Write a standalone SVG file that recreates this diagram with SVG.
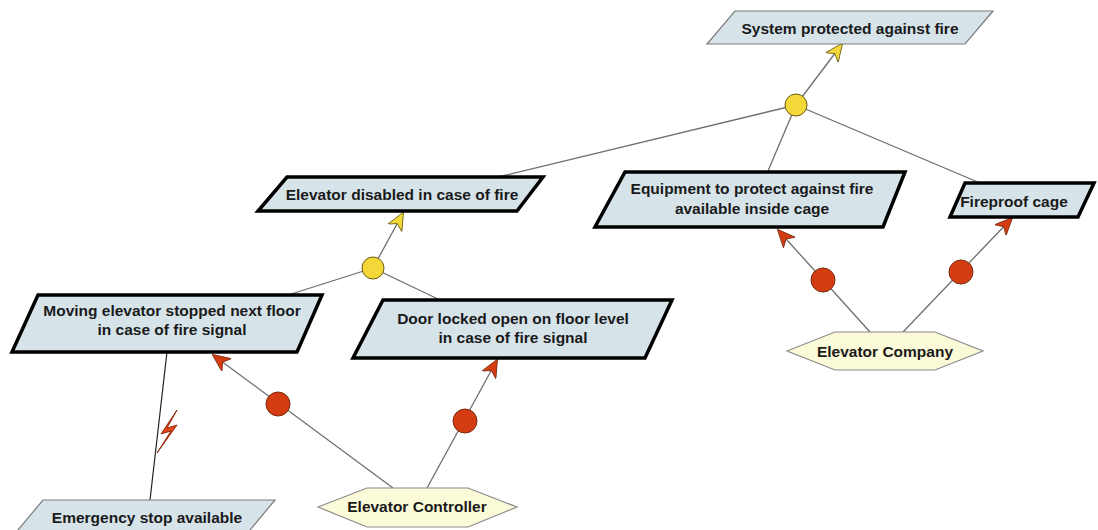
<svg xmlns="http://www.w3.org/2000/svg" width="1098" height="530" viewBox="0 0 1098 530">
<style>
.goal{fill:#d6e4ea;stroke:#000;stroke-width:3.5;stroke-linejoin:miter}
.goalt{fill:#d6e4ea;stroke:#7a7a7a;stroke-width:1.2}
.actor{fill:#fbfbd9;stroke:#8a8a8a;stroke-width:1.2}
.lbl{font-family:"Liberation Sans",Arial,sans-serif;font-weight:bold;font-size:15.5px;fill:#1a1a1a;text-anchor:middle}
.ln{stroke:#6e6e6e;stroke-width:1.3;fill:none}
.and{fill:#f4d83a;stroke:#6b5a10;stroke-width:1}
.dep{fill:#d43d12;stroke:#7a2a10;stroke-width:1}
</style>
<defs>
<marker id="ya" viewBox="0 0 18 16" refX="17" refY="8" markerWidth="18" markerHeight="16" markerUnits="userSpaceOnUse" orient="auto">
<path d="M0,0 L18,8 L0,16 L5,8 z" fill="#f4d83a" stroke="#6b5a10" stroke-width="0.8"/>
</marker>
<marker id="ra" viewBox="0 0 18 16" refX="17" refY="8" markerWidth="18" markerHeight="16" markerUnits="userSpaceOnUse" orient="auto">
<path d="M0,0 L18,8 L0,16 L5,8 z" fill="#d43d12" stroke="#7a2a10" stroke-width="0.8"/>
</marker>
</defs>
<g id="connectors">
<line class="ln" x1="796" y1="105" x2="842" y2="44" marker-end="url(#ya)"/>
<line class="ln" x1="796" y1="105" x2="498" y2="177"/>
<line class="ln" x1="796" y1="105" x2="768" y2="171"/>
<line class="ln" x1="796" y1="105" x2="980" y2="183"/>
<line class="ln" x1="373" y1="268" x2="403" y2="213" marker-end="url(#ya)"/>
<line class="ln" x1="373" y1="268" x2="285" y2="296"/>
<line class="ln" x1="373" y1="268" x2="440" y2="300"/>
<line class="ln" x1="393" y1="488" x2="213" y2="355" marker-end="url(#ra)"/>
<line class="ln" x1="427" y1="488" x2="497" y2="360" marker-end="url(#ra)"/>
<line class="ln" x1="870" y1="332" x2="778" y2="230" marker-end="url(#ra)"/>
<line class="ln" x1="903" y1="332" x2="1012" y2="218" marker-end="url(#ra)"/>
<line x1="167" y1="352" x2="150" y2="500" stroke="#222" stroke-width="1.2"/>
<polygon points="177,410 161,434 171,431 157,453 177,425 167,428" fill="#e2461a" stroke="#8a1f00" stroke-width="0.9"/>
<circle class="and" cx="796" cy="105" r="11"/>
<circle class="and" cx="373" cy="268" r="11"/>
<circle class="dep" cx="278" cy="404" r="12"/>
<circle class="dep" cx="465" cy="421" r="12"/>
<circle class="dep" cx="823" cy="280" r="12"/>
<circle class="dep" cx="961" cy="272" r="12"/>
</g>
<g id="n-system">
<polygon class="goalt" points="735,11 993,11 965,44 707,44"/>
<text class="lbl" x="850" y="34">System protected against fire</text>
</g>
<g id="n-disabled">
<polygon class="goal" points="287,177 543,177 517,211 258,211"/>
<text class="lbl" x="402" y="200">Elevator disabled in case of fire</text>
</g>
<g id="n-equipment">
<polygon class="goal" points="625,172 905,172 883,227 595,227"/>
<text class="lbl" x="752" y="194">Equipment to protect against fire</text>
<text class="lbl" x="752" y="214">available inside cage</text>
</g>
<g id="n-cage">
<polygon class="goal" points="965,183 1094,183 1078,217 950,217"/>
<text class="lbl" x="1014" y="207">Fireproof cage</text>
</g>
<g id="n-moving">
<polygon class="goal" points="38,295 322,295 297,352 12,352"/>
<text class="lbl" x="172" y="316">Moving elevator stopped next floor</text>
<text class="lbl" x="172" y="335">in case of fire signal</text>
</g>
<g id="n-door">
<polygon class="goal" points="383,300 672,300 645,358 353,358"/>
<text class="lbl" x="513" y="324">Door locked open on floor level</text>
<text class="lbl" x="513" y="343">in case of fire signal</text>
</g>
<g id="n-emergency">
<polygon class="goalt" points="43,500 275,500 245,536 13,536"/>
<text class="lbl" x="147" y="523">Emergency stop available</text>
</g>
<g id="n-controller">
<polygon class="actor" points="318,507 367,488 468,488 517,507 468,527 367,527"/>
<text class="lbl" x="417" y="512">Elevator Controller</text>
</g>
<g id="n-company">
<polygon class="actor" points="787,351 835,332 935,332 983,351 935,370 835,370"/>
<text class="lbl" x="885" y="357">Elevator Company</text>
</g>
</svg>
